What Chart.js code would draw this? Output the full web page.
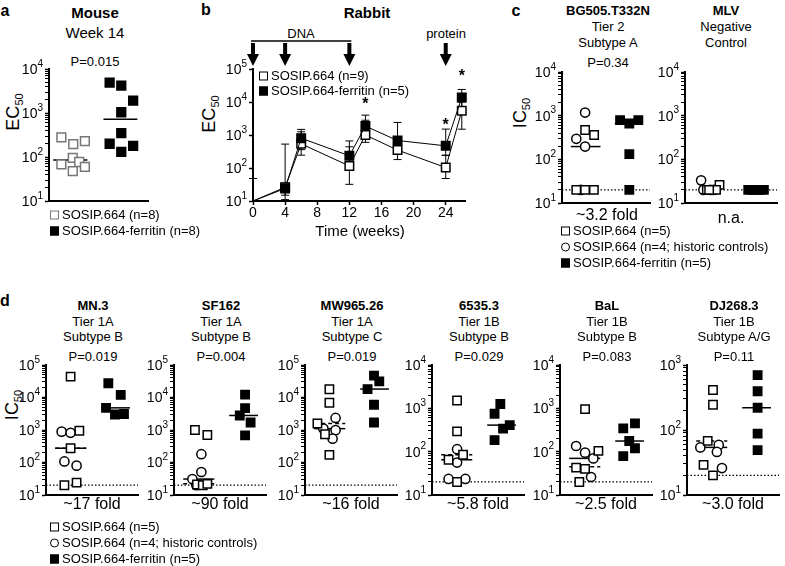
<!DOCTYPE html>
<html><head><meta charset="utf-8">
<script src="https://cdn.jsdelivr.net/npm/chart.js@4.4.1/dist/chart.umd.min.js"></script>
<style>
html,body{margin:0;padding:0;background:#fff;}
#root{position:relative;width:785px;height:566px;overflow:hidden;font-family:"Liberation Sans",Arial,Helvetica,sans-serif;color:#000;}
.t{position:absolute;white-space:nowrap;transform:translate(-50%,-50%);line-height:1;}
.l{position:absolute;white-space:nowrap;transform:translateY(-50%);line-height:1;}
.rot{position:absolute;white-space:nowrap;transform:translate(-50%,-50%) rotate(-90deg);line-height:1;}
.rot .sub{font-size:11px;position:relative;top:4px;}
canvas{position:absolute;}
.mk{display:inline-block;width:9px;height:9px;box-sizing:border-box;margin-right:3px;vertical-align:-1px;border:1.5px solid #000;background:#fff;}
.mk.ci{border-radius:50%;}
.mk.fe{background:#000;}
.mk.gr{border-color:#777;}
</style></head><body><div id="root"></div>
<script>
const FONT = '"Liberation Sans", Arial, Helvetica, sans-serif';

// ---------------- Panel a : Mouse, week 14 (EC50) ----------------
const aTitle = ['Mouse', 'Week 14'];
const aPval = 'P=0.015';
const aLegend = ['SOSIP.664 (n=8)', 'SOSIP.664-ferritin (n=8)'];
const aSosip = [280, 197, 230, 95, 77, 68, 48, 60];
const aSosipX = [0.5, 0.98, 1.45, 0.96, 1.22, 0.5, 0.96, 1.45];
const aFerritin = [4900, 4200, 1900, 1040, 350, 200, 180, 130];
const aFerritinX = [2.45, 2.92, 3.4, 2.92, 2.92, 2.45, 3.4, 2.92];
const aMedians = [85, 720];

// ---------------- Panel b : Rabbit time course (EC50) ----------------
const bLegend = ['SOSIP.664 (n=9)', 'SOSIP.664-ferritin (n=5)'];
const bWeeks = [0, 4, 6, 12, 14, 18, 24, 26];
const bSosip = [10, 26, 540, 115, 1000, 350, 103, 5400];
const bSosipLo = [10, 11, 245, 32, 600, 180, 48, 1500];
const bSosipHi = [48, 530, 1250, 440, 2800, 700, 240, 10000];
const bFerritin = [10, 24, 800, 235, 1860, 680, 470, 13800];
const bFerritinLo = [10, 15, 360, 150, 900, 300, 245, 6000];
const bFerritinHi = [10, 35, 1480, 660, 4000, 2400, 1510, 24000];
const bXTicks = [0, 4, 8, 12, 16, 20, 24];
const bDnaWeeks = [0, 4, 12];
const bProteinWeeks = [24];
const bStarWeeks = [14, 24, 26];
const bStarLevels = [11500, 2650, 83000];

// ---------------- Panel c : BG505.T332N and MLV (IC50) ----------------
const cLegend = ['SOSIP.664 (n=5)', 'SOSIP.664 (n=4; historic controls)', 'SOSIP.664-ferritin (n=5)'];
const cutoff = 20;
const bgTitle = ['BG505.T332N', 'Tier 2', 'Subtype A', 'P=0.34'];
const bgFold = '~3.2 fold';
const bgSq = [470, 360, 20, 20, 20];
const bgSqX = [1.05, 1.46, 0.65, 1.05, 1.45];
const bgCi = [1180, 295, 196, 20];
const bgCiX = [1.05, 0.65, 1.05, 0.85];
const bgFe = [790, 660, 790, 132, 20];
const bgFeX = [2.64, 3.06, 3.47, 3.06, 3.06];
const bgMed = [196, null, 660];
const mlvTitle = ['MLV', 'Negative', 'Control'];
const mlvNote = 'n.a.';
const mlvSq = [26, 20, 20, 20, 20];
const mlvSqX = [1.5, 0.95, 1.2, 1.35, 1.05];
const mlvCi = [33, 20, 20, 20];
const mlvCiX = [0.7, 0.8, 1.1, 1.25];
const mlvFe = [20, 20, 20, 20, 20];
const mlvFeX = [2.75, 2.92, 3.09, 3.26, 3.43];

// ---------------- Panel d : Tier 1 viruses (IC50) ----------------
const dStrains = ['MN.3', 'SF162', 'MW965.26', '6535.3', 'BaL', 'DJ268.3'];
const dTiers = ['Tier 1A', 'Tier 1A', 'Tier 1A', 'Tier 1B', 'Tier 1B', 'Tier 1B'];
const dSubtypes = ['Subtype B', 'Subtype B', 'Subtype C', 'Subtype B', 'Subtype B', 'Subtype A/G'];
const dPvals = ['P=0.019', 'P=0.004', 'P=0.019', 'P=0.029', 'P=0.083', 'P=0.11'];
const dFolds = ['~17 fold', '~90 fold', '~16 fold', '~5.8 fold', '~2.5 fold', '~3.0 fold'];
const dMaxExp = [5, 5, 5, 4, 4, 3];

const mn3Sq = [44000, 950, 275, 20, 24];        const mn3SqX = [1.07, 1.45, 1.07, 0.8, 1.33];
const mn3Ci = [890, 820, 108, 80];               const mn3CiX = [0.68, 1.07, 0.8, 1.33];
const mn3Fe = [27500, 12000, 4800, 3000, 3100];  const mn3FeX = [2.71, 3.25, 2.61, 3.0, 3.39];
const mn3Med = [275, 275, 4800];

const sfSq = [1000, 700, 21, 20, 22];            const sfSqX = [0.91, 1.45, 1.0, 1.25, 1.45];
const sfCi = [180, 51, 31, 20];                  const sfCiX = [1.19, 1.19, 0.8, 0.97];
const sfFe = [12300, 4700, 2800, 1700, 680];     const sfFeX = [3.09, 3.09, 2.86, 3.33, 3.09];
const sfMed = [31, 22, 2800];

const mwSq = [18000, 6900, 1580, 740, 172];      const mwSqX = [1.06, 1.06, 0.54, 0.87, 1.06];
const mwCi = [2350, 1100, 990, 540];             const mwCiX = [1.33, 0.8, 1.33, 1.2];
const mwFe = [47000, 31500, 18200, 6000, 1700];  const mwFeX = [3.0, 3.23, 2.72, 3.0, 3.0];
const mwMed = [1100, 1580, 18200];

const s65Sq = [1520, 295, 85, 65, 20];           const s65SqX = [1.09, 1.09, 1.35, 0.72, 1.09];
const s65Ci = [114, 56, 23.5, 23.5];             const s65CiX = [1.09, 1.09, 0.72, 1.45];
const s65Fe = [1260, 750, 410, 340, 185];        const s65FeX = [2.97, 2.72, 3.38, 3.09, 2.72];
const s65Med = [65, 85, 410];

const balSq = [960, 104, 43, 40, 20];            const balSqX = [1.09, 1.67, 0.7, 1.09, 0.84];
const balCi = [135, 95, 70, 26];                 const balCiX = [0.7, 1.09, 1.45, 1.35];
const balFe = [450, 345, 176, 120, 79];          const balFeX = [3.26, 2.75, 3.01, 3.26, 2.75];
const balMed = [70, 45, 176];

const djSq = [412, 245, 68, 29, 20];             const djSqX = [1.13, 1.13, 0.9, 0.72, 1.13];
const djCi = [54, 59, 46, 26];                   const djCiX = [0.58, 1.38, 1.3, 1.52];
const djFe = [700, 395, 220, 88, 49];            const djFeX = [3.07, 3.07, 3.07, 3.07, 3.07];
const djMed = [54, 68, 220];

// ================= helpers =================
const root = document.getElementById('root');

function makeCanvas(left, top, w, h) {
  const c = document.createElement('canvas');
  c.width = w; c.height = h;
  c.style.left = left + 'px'; c.style.top = top + 'px';
  c.style.width = w + 'px'; c.style.height = h + 'px';
  root.appendChild(c);
  return c;
}
function txt(s, x, y, size, bold) {
  const d = document.createElement('div');
  d.className = 't';
  d.style.left = x + 'px'; d.style.top = y + 'px';
  d.style.fontSize = size + 'px';
  if (bold) d.style.fontWeight = 'bold';
  d.textContent = s;
  root.appendChild(d);
  return d;
}
function axisTitle(main, sub, x, y) {
  const d = document.createElement('div');
  d.className = 'rot';
  d.style.left = x + 'px'; d.style.top = y + 'px';
  d.style.fontSize = '18px';
  d.appendChild(document.createTextNode(main));
  const s = document.createElement('span');
  s.className = 'sub'; s.textContent = sub;
  d.appendChild(s);
  root.appendChild(d);
}
function legend(labels, kinds, left, y0, dy) {
  labels.forEach((lab, i) => {
    const d = document.createElement('div');
    d.className = 'l';
    d.style.left = left + 'px'; d.style.top = (y0 + i * dy) + 'px';
    d.style.fontSize = '13px';
    const m = document.createElement('span');
    m.className = 'mk ' + kinds[i];
    d.appendChild(m);
    d.appendChild(document.createTextNode(lab));
    root.appendChild(d);
  });
}
function pts(vals, xs) { return vals.map((v, i) => ({ x: xs[i], y: v })); }
function isDecade(v) { if (!v) return false; const l = Math.log10(v); return Math.abs(l - Math.round(l)) < 1e-9; }
function logTicks(maxExp, minor) {
  const t = [];
  for (let e = 1; e < maxExp; e++) {
    for (let m = 1; m < 10; m++) { if (m === 1 || minor) t.push({ value: m * Math.pow(10, e) }); }
  }
  t.push({ value: Math.pow(10, maxExp) });
  return t;
}

// y-axis decade labels as 10 with superscript exponent
const logLabelPlugin = {
  id: 'logLabels',
  afterDraw(chart, args, opts) {
    const s = chart.scales.y, ctx = chart.ctx;
    ctx.save();
    ctx.fillStyle = '#000';
    ctx.textAlign = 'left';
    ctx.textBaseline = 'middle';
    for (let e = 1; e <= opts.maxExp; e++) {
      const y = s.getPixelForValue(Math.pow(10, e));
      const right = chart.chartArea.left - 6;
      ctx.font = '10px ' + FONT;
      const ew = ctx.measureText(String(e)).width;
      ctx.font = '14px ' + FONT;
      const bw = ctx.measureText('10').width;
      ctx.fillText('10', right - ew - bw, y + 1);
      ctx.font = '10px ' + FONT;
      ctx.fillText(String(e), right - ew, y - 5);
    }
    ctx.restore();
  }
};

const OPEN_SPAN = [0.4, 1.75];
const FERR_SPAN = [2.4, 3.65];

function dotPanel(cfg) {
  const PL = 46, PT = 10, PR = 8, PB = 8;
  const h = cfg.bottom - cfg.top;
  const cv = makeCanvas(cfg.axisX - PL, cfg.top - PT, PL + cfg.len + PR, PT + h + PB);
  const ds = [];
  if (cfg.ref) {
    ds.push({ type: 'line', data: [{ x: 0, y: cfg.ref }, { x: 4, y: cfg.ref }], borderColor: '#000',
      borderWidth: 1.2, borderDash: [1.5, 2], pointRadius: 0, order: 10, clip: false });
  }
  cfg.lines.forEach(m => {
    if (m.v == null) return;
    ds.push({ type: 'line', data: [{ x: m.span[0], y: m.v }, { x: m.span[1], y: m.v }], borderColor: '#000',
      borderWidth: 1.5, borderDash: m.dash ? [4, 3] : [], pointRadius: 0, order: 5, clip: false });
  });
  cfg.sets.forEach(s => {
    ds.push({ type: 'scatter', data: pts(s.vals, s.xs), pointStyle: s.shape, pointRadius: s.r,
      pointBackgroundColor: s.fill, pointBorderColor: s.stroke, pointBorderWidth: 1.5, order: s.order, clip: false });
  });
  new Chart(cv, {
    type: 'scatter',
    data: { datasets: ds },
    options: {
      responsive: false, animation: false, events: [],
      layout: { padding: { left: PL, top: PT, right: PR, bottom: PB } },
      plugins: { legend: { display: false }, tooltip: { enabled: false }, logLabels: { maxExp: cfg.maxExp } },
      scales: {
        x: { type: 'linear', min: 0, max: 4, grid: { display: false }, ticks: { display: false },
          border: { display: true, color: '#000', width: 2 },
          afterFit: s => { s.height = 0; s.paddingLeft = 0; s.paddingRight = 0; } },
        y: { type: 'logarithmic', min: 10, max: Math.pow(10, cfg.maxExp),
          grid: { display: true, drawOnChartArea: false, drawTicks: true, tickLength: 4, tickColor: '#000',
            tickWidth: c => (c.tick && isDecade(c.tick.value)) ? 1.5 : 1 },
          ticks: { display: false },
          border: { display: true, color: '#000', width: 2 },
          afterBuildTicks: s => { s.ticks = logTicks(cfg.maxExp, true); },
          afterFit: s => { s.width = 0; s.paddingTop = 0; s.paddingBottom = 0; } }
      }
    },
    plugins: [logLabelPlugin]
  });
}

function openSets(sq, sqX, ci, ciX, fe, feX) {
  return [
    { vals: ci, xs: ciX, shape: 'circle', r: 4.6, fill: '#fff', stroke: '#000', order: 2 },
    { vals: sq, xs: sqX, shape: 'rect', r: 5.9, fill: '#fff', stroke: '#000', order: 1 },
    { vals: fe, xs: feX, shape: 'rect', r: 5.9, fill: '#000', stroke: '#000', order: 0 }
  ];
}
function medLines(med) {
  return [
    { v: med[0], span: OPEN_SPAN, dash: false },
    { v: med[1], span: OPEN_SPAN, dash: true },
    { v: med[2], span: FERR_SPAN, dash: false }
  ];
}

// ================= Panel a =================
txt('a', 5, 11, 16, true);
txt(aTitle[0], 95, 12, 15, true);
txt(aTitle[1], 95, 32, 15, false);
txt(aPval, 95, 61, 13, false);
axisTitle('EC', '50', 13, 112);
dotPanel({
  axisX: 49, top: 69, bottom: 201, len: 99, maxExp: 4, ref: null,
  lines: [{ v: aMedians[0], span: [0.17, 1.55] }, { v: aMedians[1], span: [2.2, 3.57] }],
  sets: [
    { vals: aSosip, xs: aSosipX, shape: 'rect', r: 6.2, fill: '#fff', stroke: '#777', order: 1 },
    { vals: aFerritin, xs: aFerritinX, shape: 'rect', r: 6.2, fill: '#000', stroke: '#000', order: 0 }
  ]
});
legend(aLegend, ['gr', 'fe'], 50, 214, 16);

// ================= Panel b =================
txt('b', 206, 10, 16, true);
txt('Rabbit', 367, 12, 15, true);
txt('DNA', 301, 33, 13, false);
txt('protein', 446, 33, 13, false);
axisTitle('EC', '50', 209, 114);
txt('Time (weeks)', 360, 230, 15, false);

const errorBarPlugin = {
  id: 'errBars',
  beforeDatasetsDraw(chart) {
    const ctx = chart.ctx, xs = chart.scales.x, ys = chart.scales.y;
    ctx.save();
    ctx.strokeStyle = '#000'; ctx.lineWidth = 1;
    chart.data.datasets.forEach(d => {
      d.data.forEach((p, i) => {
        const lo = d.errLo[i], hi = d.errHi[i];
        if (hi <= lo) return;
        const x = xs.getPixelForValue(p.x), y1 = ys.getPixelForValue(lo), y2 = ys.getPixelForValue(hi);
        ctx.beginPath();
        ctx.moveTo(x, y1); ctx.lineTo(x, y2);
        if (lo < p.y) { ctx.moveTo(x - 4, y1); ctx.lineTo(x + 4, y1); }
        ctx.moveTo(x - 4, y2); ctx.lineTo(x + 4, y2);
        ctx.stroke();
      });
    });
    ctx.restore();
  }
};
const rabbitAnnot = {
  id: 'rabbitAnnot',
  afterDraw(chart) {
    const ctx = chart.ctx, xs = chart.scales.x, ys = chart.scales.y;
    const top = chart.chartArea.top, bottom = chart.chartArea.bottom;
    ctx.save();
    ctx.fillStyle = '#000'; ctx.strokeStyle = '#000';
    // x tick labels
    ctx.font = '14px ' + FONT;
    ctx.textAlign = 'center'; ctx.textBaseline = 'top';
    bXTicks.forEach(v => ctx.fillText(String(v), xs.getPixelForValue(v), bottom + 5));
    // DNA bracket
    ctx.lineWidth = 1.5;
    ctx.beginPath();
    ctx.moveTo(xs.getPixelForValue(bDnaWeeks[0]) - 2, top - 28);
    ctx.lineTo(xs.getPixelForValue(bDnaWeeks[bDnaWeeks.length - 1]) + 2, top - 28);
    ctx.stroke();
    // arrows
    bDnaWeeks.concat(bProteinWeeks).forEach(w => {
      const x = xs.getPixelForValue(w);
      ctx.fillRect(x - 2, top - 26, 4, 12);
      ctx.beginPath();
      ctx.moveTo(x - 6, top - 15); ctx.lineTo(x + 6, top - 15); ctx.lineTo(x, top - 3);
      ctx.closePath(); ctx.fill();
    });
    // significance stars
    ctx.font = 'bold 16px ' + FONT;
    ctx.textAlign = 'center'; ctx.textBaseline = 'alphabetic';
    bStarWeeks.forEach((w, i) => {
      ctx.fillText('*', xs.getPixelForValue(w), ys.getPixelForValue(bStarLevels[i]) + 9);
    });
    ctx.restore();
  }
};
{
  const cv = makeCanvas(200, 25, 275, 215);
  new Chart(cv, {
    type: 'line',
    data: {
      datasets: [
        { label: bLegend[1], data: pts(bFerritin, bWeeks), errLo: bFerritinLo, errHi: bFerritinHi,
          borderColor: '#000', borderWidth: 1, pointStyle: 'rect', pointRadius: c => c.dataIndex === 0 ? 0 : 6,
          pointBackgroundColor: '#000', pointBorderColor: '#000', pointBorderWidth: 1.5, order: 0, clip: false },
        { label: bLegend[0], data: pts(bSosip, bWeeks), errLo: bSosipLo, errHi: bSosipHi,
          borderColor: '#000', borderWidth: 1, pointStyle: 'rect', pointRadius: c => c.dataIndex === 0 ? 0 : 6,
          pointBackgroundColor: '#fff', pointBorderColor: '#000', pointBorderWidth: 1.5, order: 1, clip: false }
      ]
    },
    options: {
      responsive: false, animation: false, events: [],
      layout: { padding: { left: 53, top: 44, right: 10, bottom: 39 } },
      plugins: { legend: { display: false }, tooltip: { enabled: false }, logLabels: { maxExp: 5 } },
      scales: {
        x: { type: 'linear', min: 0, max: 26.4,
          grid: { display: true, drawOnChartArea: false, drawTicks: true, tickLength: 4, tickColor: '#000', tickWidth: 1.5 },
          ticks: { display: false },
          border: { display: true, color: '#000', width: 2 },
          afterBuildTicks: s => { s.ticks = bXTicks.map(v => ({ value: v })); },
          afterFit: s => { s.height = 0; s.paddingLeft = 0; s.paddingRight = 0; } },
        y: { type: 'logarithmic', min: 10, max: 1e5,
          grid: { display: true, drawOnChartArea: false, drawTicks: true, tickLength: 4, tickColor: '#000', tickWidth: 1.5 },
          ticks: { display: false },
          border: { display: true, color: '#000', width: 2 },
          afterBuildTicks: s => { s.ticks = logTicks(5, false); },
          afterFit: s => { s.width = 0; s.paddingTop = 0; s.paddingBottom = 0; } }
      }
    },
    plugins: [errorBarPlugin, logLabelPlugin, rabbitAnnot]
  });
}
legend(bLegend, ['', 'fe'], 259, 74.5, 15);

// ================= Panel c =================
txt('c', 516, 11, 16, true);
axisTitle('IC', '50', 520, 113);
bgTitle.forEach((s, i) => txt(s, 608, [10, 26, 42, 62][i], 13, i === 0));
mlvTitle.forEach((s, i) => txt(s, 726, [10, 26, 42][i], 13, i === 0));
dotPanel({
  axisX: 562, top: 72, bottom: 203, len: 88, maxExp: 4, ref: cutoff,
  lines: medLines(bgMed), sets: openSets(bgSq, bgSqX, bgCi, bgCiX, bgFe, bgFeX)
});
dotPanel({
  axisX: 685, top: 72, bottom: 203, len: 92, maxExp: 4, ref: cutoff,
  lines: [], sets: openSets(mlvSq, mlvSqX, mlvCi, mlvCiX, mlvFe, mlvFeX)
});
txt(bgFold, 607, 215, 16, false);
txt(mlvNote, 731, 218, 16, false);
legend(cLegend, ['', 'ci', 'fe'], 561, 230, 16);

// ================= Panel d =================
txt('d', 5, 301, 16, true);
axisTitle('IC', '50', 12, 405);
const dAxisX = [46, 174, 305, 432, 560, 687];
const dData = [
  [mn3Sq, mn3SqX, mn3Ci, mn3CiX, mn3Fe, mn3FeX, mn3Med],
  [sfSq, sfSqX, sfCi, sfCiX, sfFe, sfFeX, sfMed],
  [mwSq, mwSqX, mwCi, mwCiX, mwFe, mwFeX, mwMed],
  [s65Sq, s65SqX, s65Ci, s65CiX, s65Fe, s65FeX, s65Med],
  [balSq, balSqX, balCi, balCiX, balFe, balFeX, balMed],
  [djSq, djSqX, djCi, djCiX, djFe, djFeX, djMed]
];
dStrains.forEach((name, i) => {
  const cx = dAxisX[i] + 47;
  txt(name, cx, 305, 13, true);
  txt(dTiers[i], cx, 320.5, 13, false);
  txt(dSubtypes[i], cx, 336, 13, false);
  txt(dPvals[i], cx, 356, 13, false);
  const d = dData[i];
  dotPanel({
    axisX: dAxisX[i], top: 365, bottom: 495, len: 92, maxExp: dMaxExp[i], ref: cutoff,
    lines: medLines(d[6]), sets: openSets(d[0], d[1], d[2], d[3], d[4], d[5])
  });
  txt(dFolds[i], dAxisX[i] + 46, 504, 16, false);
});
legend(cLegend, ['', 'ci', 'fe'], 50, 526, 16);
</script></body></html>
